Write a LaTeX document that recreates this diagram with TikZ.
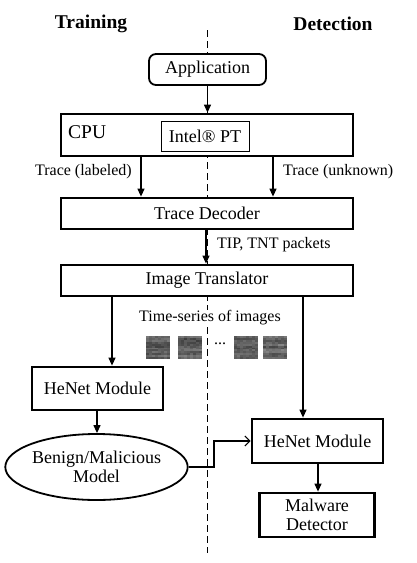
\documentclass[tikz,border=0pt]{standalone}
\usepackage{fontspec}
\setmainfont{Liberation Serif}
\usetikzlibrary{arrows.meta,shapes.geometric}
\begin{document}
\begin{tikzpicture}[x=1pt,y=-1pt,
  boxtxt/.style={font=\fontsize{18}{20}\selectfont},
  lbl/.style={font=\fontsize{16}{18}\selectfont, inner sep=0pt},
  title/.style={font=\fontsize{19.5}{21}\selectfont\bfseries, inner sep=0pt},
  thickbox/.style={boxtxt, draw, line width=2.8pt, fill=white, inner sep=0pt, align=center},
  arr/.style={line width=1.2pt, -{Triangle[length=8pt,width=7pt]}},
  openarr/.style={line width=1.1pt, -{Straight Barb[length=5pt,width=10pt]}},
  divider/.style={line width=1pt, dash pattern=on 7pt off 4pt}
]
\useasboundingbox (0,0) rectangle (417,563);
% divider line
\coordinate (dtop) at (207,30);
\coordinate (dbot) at (207,553);
\draw[divider] (dtop) -- (dbot);

% titles
\node[title] (ttrain) at (91,24) {Training};
\node[title] (tdet) at (333,24) {Detection};

% nodes
\node[boxtxt, draw, line width=1.8pt, rounded corners=7pt, fill=white,
      minimum width=117pt, minimum height=31pt, inner sep=0pt] (app) at (207.5,69.5) {Application};
\node[thickbox, minimum width=292pt, minimum height=42pt] (cpu) at (207,135) {};
\node[font=\fontsize{19.5}{21}\selectfont, anchor=west, inner sep=0pt] (cpulbl) at (68,132) {CPU};
\node[boxtxt, draw, line width=0.9pt, fill=white, minimum width=88pt, minimum height=30pt, inner sep=0pt] (intel) at (205,136) {Intel® PT};
\node[thickbox, minimum width=292pt, minimum height=31pt] (dec) at (207,213.5) {Trace Decoder};
\node[thickbox, minimum width=292pt, minimum height=31pt] (trans) at (207,280.5) {Image Translator};
\node[thickbox, minimum width=131pt, minimum height=43pt] (henL) at (97.5,388.5) {HeNet Module};
\node[boxtxt, draw, ellipse, line width=1.8pt, fill=white, minimum width=161pt, minimum height=66pt,
      inner sep=0pt, align=center] (model) at (96.5,467) {Benign/Malicious\\[-1pt]Model};
\node[thickbox, minimum width=131pt, minimum height=44pt] (henR) at (317.5,441) {HeNet Module};
\node[thickbox, minimum width=115pt, minimum height=44pt] (mal) at (317,515) {Malware\\[-1pt]Detector};

% labels
\node[lbl, anchor=east] (l1) at (132,172) {Trace (labeled)};
\node[lbl, anchor=west] (l2) at (283,172) {Trace (unknown)};
\node[lbl, anchor=west] (l3) at (217,245) {TIP, TNT packets};
\node[lbl, fill=white, inner sep=1pt] (l4) at (210,318) {Time-series of images};
\node[lbl] (dots) at (220,344) {...};

% image thumbnails
\pgfmathsetseed{11}
\foreach \ix in {146,178,234,263}{
  \foreach \r in {0,...,11}{
    \pgfmathsetmacro\base{rnd*18+24}
    \foreach \c in {0,...,7}{
      \pgfmathtruncatemacro\v{\base+rnd*12}
      \fill[white!\v!black] (\ix+\c*3, 336+\r*1.92) rectangle ++(3.05,1.97);
    }
  }
}

% connectors
\coordinate (xl) at (141,0);
\coordinate (xr) at (273,0);
\coordinate (xd) at (206,0);
\coordinate (xtl) at (112,0);
\coordinate (xtr) at (303,0);
\coordinate (xm) at (97,0);
\coordinate (xh) at (318,0);
\coordinate (xb) at (214,0);

\draw[arr] (app.south) -- (app.south |- cpu.north);
\draw[arr] (xl |- cpu.south) -- (xl |- dec.north);
\draw[arr] (xr |- cpu.south) -- (xr |- dec.north);
\draw[arr] (xd |- dec.south) -- (xd |- trans.north);
\draw[arr] (xtl |- trans.south) -- (xtl |- henL.north);
\draw[arr] (xtr |- trans.south) -- (xtr |- henR.north);
\draw[arr] (xm |- henL.south) -- (xm |- model.north);
\draw[arr] (xh |- henR.south) -- (xh |- mal.north);
\draw[openarr] (model.east) -- (xb |- model.east) -- (xb |- henR.west) -- (henR.west);
\end{tikzpicture}
\end{document}
